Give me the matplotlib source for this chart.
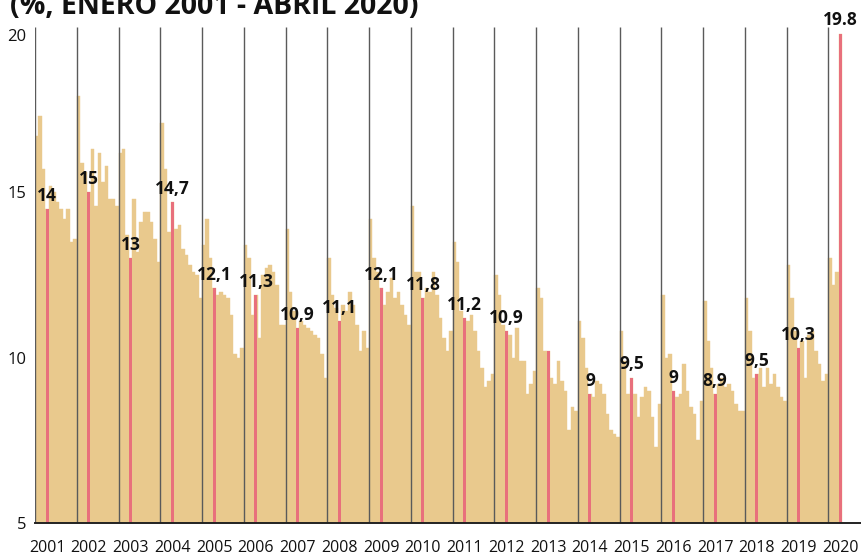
import matplotlib
matplotlib.use("Agg")
import matplotlib.pyplot as plt
from matplotlib import font_manager
from matplotlib.transforms import ScaledTranslation
import numpy as np

# ---------------- data (monthly unemployment rate, %) ----------------
y2001 = [16.7, 17.3, 15.7, 14.5, 15.2, 15.0, 14.7, 14.5, 14.2, 14.5, 13.5, 13.6]
y2002 = [17.9, 15.9, 15.6, 15.0, 16.3, 14.6, 16.2, 15.3, 15.8, 14.8, 14.8, 14.6]
y2003 = [16.2, 16.3, 13.7, 13.0, 14.8, 13.2, 14.1, 14.4, 14.4, 14.1, 13.6, 12.9]
y2004 = [17.1, 15.7, 13.8, 14.7, 13.9, 14.0, 13.3, 13.1, 12.8, 12.6, 12.5, 11.8]
y2005 = [13.4, 14.2, 13.0, 12.1, 11.9, 12.0, 11.9, 11.8, 11.3, 10.1, 10.0, 10.3]
y2006 = [13.4, 13.0, 11.3, 11.9, 10.6, 12.5, 12.7, 12.8, 12.6, 12.2, 11.0, 11.0]
y2007 = [13.9, 12.0, 11.4, 10.9, 11.1, 11.0, 10.9, 10.8, 10.7, 10.6, 10.1, 9.4]
y2008 = [13.0, 11.9, 11.5, 11.1, 11.6, 11.4, 12.0, 11.6, 11.0, 10.2, 10.8, 10.3]
y2009 = [14.2, 13.0, 12.6, 12.1, 11.6, 12.0, 12.4, 11.8, 12.0, 11.6, 11.3, 11.0]
y2010 = [14.6, 12.6, 12.6, 11.8, 12.1, 12.0, 12.6, 11.9, 11.2, 10.6, 10.2, 10.8]
y2011 = [13.5, 12.9, 11.4, 11.2, 11.1, 11.3, 10.8, 10.2, 9.7, 9.1, 9.3, 9.5]
y2012 = [12.5, 11.9, 11.0, 10.8, 10.7, 10.0, 10.9, 9.9, 9.9, 8.9, 9.2, 9.6]
y2013 = [12.1, 11.8, 10.2, 10.2, 9.4, 9.2, 9.9, 9.3, 9.0, 7.8, 8.5, 8.4]
y2014 = [11.1, 10.6, 9.7, 8.9, 8.8, 9.3, 9.2, 8.9, 8.3, 7.8, 7.7, 7.6]
y2015 = [10.8, 9.9, 8.9, 9.4, 8.9, 8.2, 8.8, 9.1, 9.0, 8.2, 7.3, 8.6]
y2016 = [11.9, 10.0, 10.1, 9.0, 8.8, 8.9, 9.8, 9.0, 8.5, 8.3, 7.5, 8.7]
y2017 = [11.7, 10.5, 9.7, 8.9, 9.2, 9.4, 9.1, 9.2, 9.0, 8.6, 8.4, 8.4]
y2018 = [11.8, 10.8, 9.4, 9.5, 9.7, 9.1, 9.7, 9.2, 9.5, 9.1, 8.8, 8.7]
y2019 = [12.8, 11.8, 10.8, 10.3, 10.5, 9.4, 10.7, 10.8, 10.2, 9.8, 9.3, 9.5]
y2020 = [13.0, 12.2, 12.6, 19.8]

years = [str(y) for y in range(2001, 2021)]
april_labels = ["14", "15", "13", "14,7", "12,1", "11,3", "10,9", "11,1", "12,1",
                "11,8", "11,2", "10,9", "", "9", "9,5", "9", "8,9", "9,5", "10,3", "19.8"]
title = "(%, ENERO 2001 - ABRIL 2020)"
yticks = [5, 10, 15, 20]

# ---------------- styling ----------------
avail = {f.name for f in font_manager.fontManager.ttflist}
def pick(*names):
    for n in names:
        if n in avail:
            return n
    return "DejaVu Sans"
FONT = pick("Liberation Sans Narrow", "Open Sans", "Roboto")
plt.rcParams["font.family"] = [FONT, "DejaVu Sans"]

TAN = "#E9C98D"
RED = "#E8707C"
LINE = "#5a5a5a"

all_years = [y2001, y2002, y2003, y2004, y2005, y2006, y2007, y2008, y2009, y2010,
             y2011, y2012, y2013, y2014, y2015, y2016, y2017, y2018, y2019, y2020]
values = np.array([v for yr in all_years for v in yr])
n = len(values)
xm = np.arange(n) + 0.5
april_idx = np.array([3 + 12 * k for k in range(len(years))])
april_vals = values[april_idx]

fig = plt.figure(figsize=(8.61, 5.59), dpi=100)
ax = fig.add_axes([35 / 861, 1 - 523 / 559, 1 - 35 / 861, (523 - 27) / 559])

ax.bar(xm, values, width=1.0, color=TAN, edgecolor=TAN, linewidth=0.3, zorder=1)
ax.vlines(np.arange(0, n, 12), 5, 20, color=LINE, linewidth=1.0, zorder=2)
ax.bar(april_idx + 0.5, april_vals, width=0.85, color=RED, linewidth=0, zorder=3)

for xi, v, lab in zip(april_idx + 0.5, april_vals, april_labels):
    if lab:
        ax.annotate(lab, (xi, v), xytext=(0, 3), textcoords="offset points",
                    ha="center", va="bottom", fontsize=12.5, fontweight="bold",
                    color="#111111", zorder=5, annotation_clip=False)

ax.set_xlim(0, 237.4)
ax.set_ylim(5, 20)
ax.set_yticks(yticks)
ax.set_yticklabels([str(t) for t in yticks])
ax.set_xticks(april_idx + 0.5)
ax.set_xticklabels(years)
ax.tick_params(axis="y", length=0, pad=6, labelsize=12, colors="#111111")
ax.tick_params(axis="x", length=0, pad=12, labelsize=11.5, colors="#111111")

# the top "20" label sits a little lower in the reference
for lab in ax.get_yticklabels():
    if lab.get_text() == "20":
        lab.set_transform(lab.get_transform() + ScaledTranslation(0, -0.08, fig.dpi_scale_trans))

for s in ["top", "right", "left"]:
    ax.spines[s].set_visible(False)
ax.spines["bottom"].set_color("#222222")
ax.spines["bottom"].set_linewidth(1.4)
ax.spines["bottom"].set_zorder(4)

fig.text(10 / 861, 1 - 14.5 / 559, title, ha="left", va="baseline",
         fontsize=20.5, fontweight="bold", color="#111111")

fig.savefig("out.png", dpi=100)
